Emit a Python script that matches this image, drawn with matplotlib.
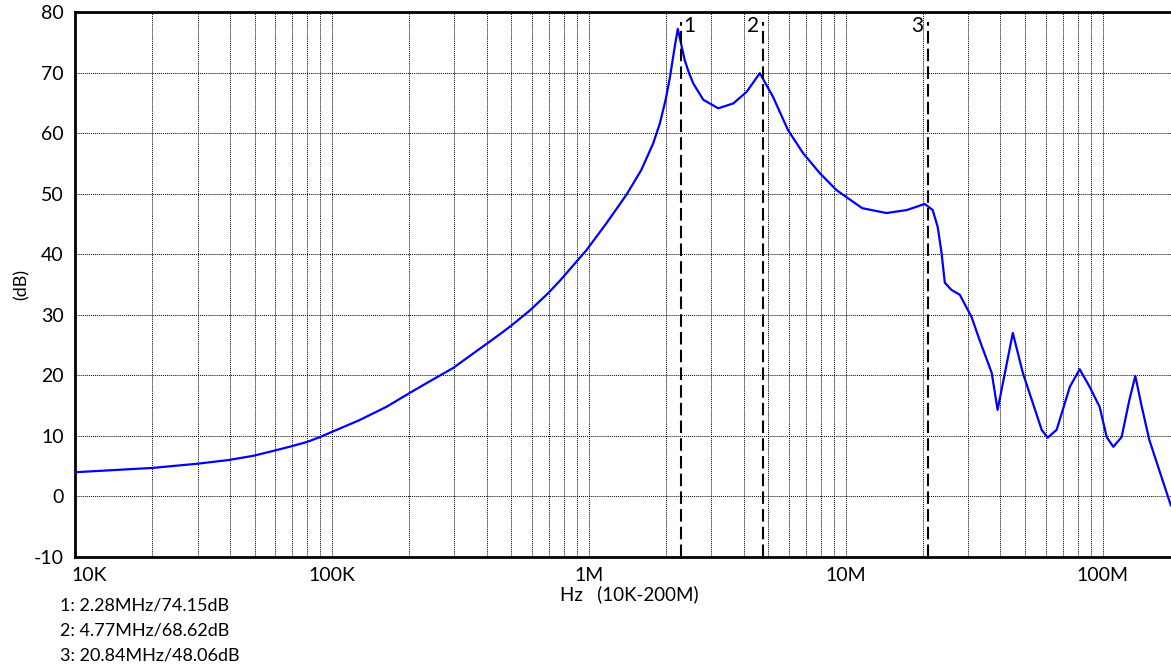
import warnings
warnings.filterwarnings("ignore")

import numpy as np
import matplotlib
matplotlib.use("Agg")
import matplotlib.pyplot as plt
from matplotlib.ticker import FixedLocator, LogLocator, NullFormatter
from matplotlib.transforms import offset_copy

plt.rcParams["axes.unicode_minus"] = False

# curve (Hz, dB)
freq_hz = [
    1.00e4, 1.99e4, 2.99e4, 3.94e4, 4.93e4, 5.89e4, 6.98e4, 8.00e4, 8.98e4,
    9.80e4, 1.28e5, 1.63e5, 2.01e5, 2.40e5, 2.96e5, 3.44e5, 3.94e5, 4.51e5,
    5.02e5, 5.89e5, 6.92e5, 7.71e5, 9.80e5, 1.17e6, 1.40e6, 1.60e6, 1.78e6,
    1.89e6, 1.99e6, 2.07e6, 2.16e6, 2.22e6, 2.36e6, 2.45e6, 2.55e6, 2.79e6,
    3.19e6, 3.65e6, 4.11e6, 4.63e6, 5.21e6, 5.96e6, 6.82e6, 7.92e6, 9.20e6,
    1.04e7, 1.16e7, 1.44e7, 1.73e7, 2.03e7, 2.18e7, 2.28e7, 2.36e7, 2.43e7,
    2.58e7, 2.78e7, 3.09e7, 3.32e7, 3.70e7, 3.90e7, 4.47e7, 4.89e7, 5.79e7,
    6.11e7, 6.62e7, 7.45e7, 8.14e7, 8.90e7, 9.73e7, 1.037e8, 1.10e8, 1.185e8,
    1.27e8, 1.34e8, 1.42e8, 1.52e8, 1.84e8, 2.00e8,
]
gain_db = [
    4.0, 4.7, 5.4, 6.0, 6.7, 7.5, 8.3, 9.0, 9.8,
    10.5, 12.6, 14.8, 17.1, 19.0, 21.2, 23.2, 25.0, 26.8,
    28.3, 30.7, 33.5, 35.6, 40.7, 45.1, 49.8, 53.9, 58.3,
    61.6, 65.5, 69.3, 74.3, 77.2, 72.1, 70.0, 68.2, 65.5,
    64.1, 64.9, 66.8, 69.9, 66.0, 60.5, 56.7, 53.4, 50.6,
    49.0, 47.6, 46.8, 47.3, 48.3, 47.3, 44.5, 40.2, 35.3,
    34.1, 33.3, 29.6, 25.8, 20.4, 14.3, 27.0, 20.4, 11.0,
    9.7, 11.0, 18.1, 21.0, 18.1, 14.8, 9.8, 8.2, 9.8,
    15.9, 19.9, 14.8, 9.3, -1.4, -3.5,
]

# markers
marker_ids = ["1", "2", "3"]
marker_freq = [2.28e6, 4.77e6, 20.84e6]
marker_db = [74.15, 68.62, 48.06]
marker_freq_txt = ["2.28MHz", "4.77MHz", "20.84MHz"]

x_ticks = [1e4, 1e5, 1e6, 1e7, 1e8]
x_tick_labels = ["10K", "100K", "1M", "10M", "100M"]
y_ticks = [-10, 0, 10, 20, 30, 40, 50, 60, 70, 80]

FONT = ["Lato", "DejaVu Sans"]


def plot_response(out="out.png"):
    fig = plt.figure(figsize=(11.71, 6.69), dpi=100)
    ax = fig.add_axes([0.06405, 0.16741, 0.94364, 0.81465])

    ax.set_xscale("log")
    ax.set_xlim(1e4, 2e8)
    ax.set_ylim(-10, 80)

    # grid: dotted, every decade subdivision + every 10 dB
    ax.xaxis.set_major_locator(FixedLocator(x_ticks))
    ax.xaxis.set_minor_locator(LogLocator(base=10, subs=np.arange(2, 10)))
    ax.xaxis.set_minor_formatter(NullFormatter())
    ax.set_xticklabels(x_tick_labels)
    ax.set_yticks(y_ticks)
    ax.grid(which="both", axis="x", color="black", linewidth=0.7,
            linestyle=(0, (1, 1)))
    ax.grid(which="major", axis="y", color="black", linewidth=0.7,
            linestyle=(0, (1, 1)))
    ax.set_axisbelow(True)

    ax.tick_params(which="both", length=0, labelsize=14)
    ax.tick_params(axis="x", pad=7)
    ax.tick_params(axis="y", pad=8)
    for lab in ax.get_xticklabels() + ax.get_yticklabels():
        lab.set_family(FONT)
    first = ax.get_xticklabels()[0]
    first.set_horizontalalignment("left")
    first.set_transform(first.get_transform() +
                        matplotlib.transforms.Affine2D().translate(-4, 0))

    for side in ("left", "bottom", "top"):
        ax.spines[side].set_linewidth(2.0)
        ax.spines[side].set_color("black")
    ax.spines["right"].set_visible(False)

    ax.plot(freq_hz, gain_db, color="#0000FF", linewidth=1.6, zorder=3,
            solid_joinstyle="round")

    for i, f in enumerate(marker_freq):
        ax.axvline(f, ymin=0, ymax=0.982, color="black", linewidth=1.5,
                   dashes=(6, 2.5), zorder=4)
        if i == 0:
            tr = offset_copy(ax.transData, fig=fig, x=2, y=0, units="dots")
            ha = "left"
        else:
            tr = offset_copy(ax.transData, fig=fig, x=-4, y=0, units="dots")
            ha = "right"
        ax.text(f, 79.4, marker_ids[i], transform=tr, ha=ha, va="top",
                fontsize=15, family=FONT)

    ax.set_ylabel("(dB)", fontsize=13, family=FONT, labelpad=3)
    fig.text(0.537, 0.112, "Hz   (10K-200M)", ha="center", va="center",
             fontsize=13.5, family=FONT)

    for i in range(len(marker_ids)):
        fig.text(0.051, 0.095 - i * 0.0375,
                 f"{marker_ids[i]}: {marker_freq_txt[i]}/{marker_db[i]:.2f}dB",
                 ha="left", va="center", fontsize=13, family=FONT)

    plt.savefig(out, dpi=100)
    plt.close()
    print(f"Saved: {out}")


if __name__ == "__main__":
    plot_response()
